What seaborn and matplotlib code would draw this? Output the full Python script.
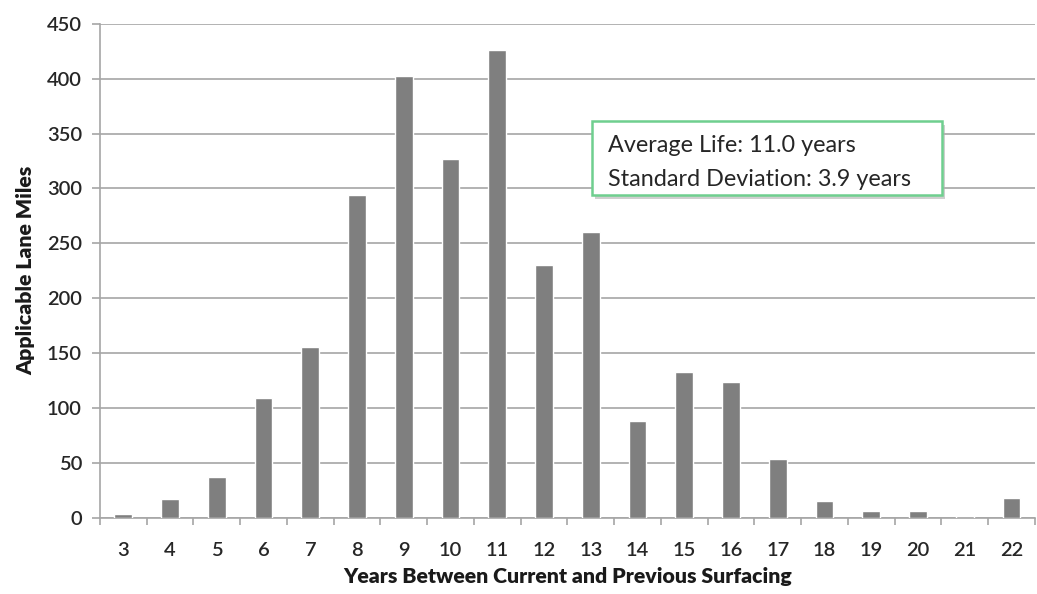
import matplotlib
matplotlib.use("Agg")
import matplotlib.pyplot as plt
import seaborn as sns
import pandas as pd
import numpy as np
from matplotlib.patches import FancyBboxPatch

years = [str(y) for y in range(3, 23)]
lane_miles = [4, 17, 37, 109, 156, 294, 402, 327, 426, 230, 260, 88, 133, 124, 54, 15, 6, 6, 2, 18]
y_ticks = [0, 50, 100, 150, 200, 250, 300, 350, 400, 450]

df = pd.DataFrame({"Years": years, "Miles": lane_miles})

sns.set_theme(style="white")
plt.rcParams['font.family'] = ['Lato', 'DejaVu Sans']

fig = plt.figure(figsize=(10.37, 5.94), dpi=100)
ax = fig.add_axes([0.0964, 0.128, 0.9016, 0.832])

sns.barplot(data=df, x="Years", y="Miles", color="#7f7f7f", width=0.38,
            saturation=1, ax=ax, zorder=3)

ax.set_ylim(0, 450)
ax.set_xlim(-0.5, len(years) - 0.5)
ax.set_yticks(y_ticks)
ax.yaxis.grid(True, color="#a6a6a6", linewidth=1.2, zorder=0)
ax.set_axisbelow(True)

for s in ["top", "right"]:
    ax.spines[s].set_visible(False)
for s in ["left", "bottom"]:
    ax.spines[s].set_color("#a6a6a6")
    ax.spines[s].set_linewidth(1.2)

tick_font = 14.5
ax.set_xticks(np.arange(-0.5, len(years), 1.0), minor=True)
ax.tick_params(axis="x", which="major", length=0, pad=17, labelsize=tick_font, colors="#262626")
ax.tick_params(axis="x", which="minor", length=5, color="#a6a6a6", width=1.2, direction="out")
ax.tick_params(axis="y", which="major", length=6, color="#a6a6a6", width=1.2, direction="out",
               labelsize=tick_font, colors="#262626", pad=7)
ax.tick_params(axis="y", left=True)
ax.tick_params(axis="x", which="minor", bottom=True)
for lbl in ax.get_xticklabels() + ax.get_yticklabels():
    lbl.set_fontweight("semibold")

ax.set_xlabel("Years Between Current and Previous Surfacing", fontsize=15.3,
              fontweight="heavy", color="#1a1a1a", labelpad=6)
ax.set_ylabel("Applicable Lane Miles", fontsize=15.3, fontweight="heavy",
              color="#1a1a1a", labelpad=8)

# annotation box
bx0, by0, bw, bh = 592 / 1037, 1 - 195 / 594, 350 / 1037, 74 / 594
shadow = FancyBboxPatch((bx0 + 0.003, by0 - 0.006), bw, bh, boxstyle="square,pad=0",
                        transform=fig.transFigure, facecolor="#b0b0b0", edgecolor="none",
                        alpha=0.6, zorder=5)
box = FancyBboxPatch((bx0, by0), bw, bh, boxstyle="square,pad=0",
                     transform=fig.transFigure, facecolor="white", edgecolor="#6fcf8f",
                     linewidth=1.8, zorder=6)
fig.patches.extend([shadow, box])
fig.text(608 / 1037, 1 - 146 / 594, "Average Life: 11.0 years", fontsize=16.8,
         color="#262626", va="center", ha="left", zorder=7)
fig.text(608 / 1037, 1 - 180 / 594, "Standard Deviation: 3.9 years", fontsize=16.8,
         color="#262626", va="center", ha="left", zorder=7)

fig.savefig("out.png", dpi=100)
